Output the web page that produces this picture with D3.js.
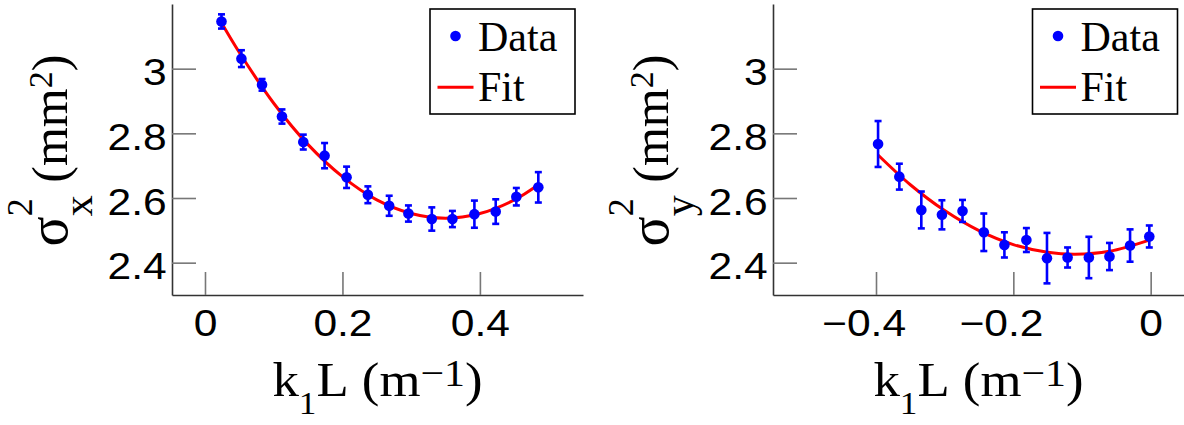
<!DOCTYPE html>
<html><head><meta charset="utf-8">
<script src="https://cdn.jsdelivr.net/npm/d3@7/dist/d3.min.js"></script>
<style>body{margin:0;background:#fff;} svg{display:block;}</style>
</head><body>
<svg id="c" width="1184" height="425"></svg>
<script>
// ---------- data ----------
const yTicks = [2.4, 2.6, 2.8, 3.0];
const yTickLabels = ["2.4", "2.6", "2.8", "3"];

const xTicksLeft = [0, 0.2, 0.4];
const xTickLabelsLeft = ["0", "0.2", "0.4"];
const xTicksRight = [-0.4, -0.2, 0];
const xTickLabelsRight = ["\u22120.4", "\u22120.2", "0"];

// sigma_x^2 scan
const k1LLeft = [0.024, 0.053, 0.083, 0.112, 0.143, 0.174, 0.206, 0.237, 0.268, 0.296, 0.330, 0.360, 0.392, 0.423, 0.453, 0.485];
const sigX2 = [3.146, 3.031, 2.950, 2.852, 2.773, 2.731, 2.664, 2.610, 2.576, 2.552, 2.535, 2.535, 2.550, 2.558, 2.604, 2.633];
const sigX2Err = [0.022, 0.026, 0.018, 0.022, 0.023, 0.039, 0.033, 0.026, 0.031, 0.025, 0.036, 0.025, 0.042, 0.038, 0.027, 0.047];
const fitK1LLeft = [0.024, 0.05, 0.10, 0.15, 0.20, 0.25, 0.30, 0.35, 0.40, 0.45, 0.485];
const fitSigX2 = [3.142, 3.050, 2.893, 2.765, 2.666, 2.594, 2.552, 2.5375, 2.552, 2.594, 2.641];

// sigma_y^2 scan
const k1LRight = [-0.397, -0.366, -0.334, -0.304, -0.274, -0.243, -0.213, -0.181, -0.151, -0.121, -0.090, -0.060, -0.030, -0.002];
const sigY2 = [2.767, 2.666, 2.563, 2.548, 2.560, 2.494, 2.455, 2.470, 2.414, 2.416, 2.416, 2.419, 2.453, 2.481];
const sigY2Err = [0.071, 0.040, 0.057, 0.045, 0.034, 0.058, 0.039, 0.037, 0.078, 0.031, 0.064, 0.042, 0.050, 0.034];
const fitK1LRight = [-0.397, -0.35, -0.30, -0.25, -0.20, -0.15, -0.11, -0.06, -0.002];
const fitSigY2 = [2.733, 2.641, 2.561, 2.499, 2.456, 2.432, 2.426, 2.435, 2.4695];

const legendLabels = ["Data", "Fit"];

// ---------- drawing ----------
const svg = d3.select("#c");
const SANS = "'Liberation Sans', Arial, Helvetica, sans-serif";
const SERIF = "'Liberation Serif', 'Times New Roman', serif";
const SX = 1.15;       // horizontal stretch of tick labels
const BLUE = "#0000ff", RED = "#ff0000";

function rich(parent, pieces, tx, ty, rot, sx) {
  const g = parent.append("g").attr("transform", `translate(${tx},${ty}) rotate(${rot}) scale(${sx},1)`);
  const inner = g.append("g");
  let x = 0, stackW = 0;
  pieces.forEach(p => {
    const t = inner.append("text").attr("x", x).attr("y", p.shift || 0)
      .attr("font-family", SERIF).attr("font-size", p.size).attr("fill", "#000")
      .style("white-space", "pre").attr("xml:space", "preserve").text(p.t);
    const w = t.node().getComputedTextLength();
    if (p.stack) { stackW = Math.max(stackW, w); }
    else { x += Math.max(w, stackW); stackW = 0; }
  });
  inner.attr("transform", `translate(${-x / 2},0)`);
}

function panel(cfg) {
  const x = d3.scaleLinear().domain(cfg.xDomain).range(cfg.xRange);
  const y = d3.scaleLinear().domain([2.3, 3.2]).range([295, 4]);
  const g = svg.append("g");

  // y axis
  const ya = g.append("g").attr("transform", `translate(${cfg.xRange[0]},0)`)
    .call(d3.axisLeft(y).tickValues(yTicks).tickFormat((d, i) => yTickLabels[i])
      .tickSize(-24).tickSizeOuter(0).tickPadding(5));
  // x axis
  const xa = g.append("g").attr("transform", `translate(0,295)`)
    .call(d3.axisBottom(x).tickValues(cfg.xTicks).tickFormat((d, i) => cfg.xTickLabels[i])
      .tickSize(-23).tickSizeOuter(0).tickPadding(15));
  [ya, xa].forEach(a => {
    a.select(".domain").attr("stroke", "#333").attr("stroke-width", 1.6);
    a.selectAll(".tick line").attr("stroke", "#777").attr("stroke-width", 1.6);
    a.selectAll(".tick text").attr("font-family", SANS).attr("font-size", 37).attr("fill", "#000");
  });
  ya.selectAll(".tick text").attr("x", -5.3 / SX).attr("dy", "0.44em").attr("transform", `scale(${SX},1)`);
  xa.selectAll(".tick text").attr("x", function () {
      return this.textContent.startsWith("\u2212") ? -12.4 / SX : 0;
    }).attr("transform", `scale(${SX},1)`);

  // fit
  const line = d3.line().x(d => x(d[0])).y(d => y(d[1])).curve(d3.curveCatmullRom.alpha(0.5));
  g.append("path").datum(cfg.fitX.map((v, i) => [v, cfg.fitY[i]]))
    .attr("d", line).attr("fill", "none").attr("stroke", RED).attr("stroke-width", 3);

  // data with error bars
  const pts = cfg.dx.map((v, i) => ({ x: v, y: cfg.dy[i], e: cfg.de[i] }));
  const eb = g.append("g").attr("stroke", BLUE).attr("stroke-width", 2.6);
  pts.forEach(p => {
    const cx = x(p.x), y1 = y(p.y - p.e), y2 = y(p.y + p.e);
    eb.append("line").attr("x1", cx).attr("x2", cx).attr("y1", y1).attr("y2", y2);
    eb.append("line").attr("x1", cx - 3.5).attr("x2", cx + 3.5).attr("y1", y1).attr("y2", y1);
    eb.append("line").attr("x1", cx - 3.5).attr("x2", cx + 3.5).attr("y1", y2).attr("y2", y2);
  });
  g.append("g").selectAll("circle").data(pts).join("circle")
    .attr("cx", d => x(d.x)).attr("cy", d => y(d.y)).attr("r", 5.3).attr("fill", BLUE);

  // legend
  const lx = cfg.xRange[0] + cfg.legOff;
  const lg = g.append("g").attr("transform", `translate(${lx},9)`);
  lg.append("rect").attr("width", 145).attr("height", 105).attr("fill", "#fff")
    .attr("stroke", "#000").attr("stroke-width", 1.6);
  lg.append("circle").attr("cx", 25.5).attr("cy", 27).attr("r", 5.3).attr("fill", BLUE);
  lg.append("line").attr("x1", 7.5).attr("x2", 43.5).attr("y1", 78.3).attr("y2", 78.3)
    .attr("stroke", RED).attr("stroke-width", 3);
  lg.append("text").attr("x", 48).attr("y", 41.7).attr("font-family", SERIF).attr("font-size", 42).text(legendLabels[0]);
  lg.append("text").attr("x", 48).attr("y", 92).attr("font-family", SERIF).attr("font-size", 42).text(legendLabels[1]);

  // x title: k_1 L (m^-1)
  const xc = (cfg.xRange[0] + Math.min(cfg.xRange[1], 1184)) / 2;
  rich(g, [
    { t: "k", size: 48 },
    { t: "1", size: 32, shift: 18 },
    { t: "L", size: 48 },
    { t: " (", size: 48 },
    { t: "m", size: 48 },
    { t: "\u22121", size: 38, shift: -10 },
    { t: ")", size: 48 }
  ], xc, 396, 0, 1.1);

  // y title: sigma^2_{x|y} (mm^2)
  rich(g, [
    { t: "\u03C3", size: 56 },
    { t: "2", size: 36, shift: -35, stack: true },
    { t: cfg.sub, size: 42, shift: 25 },
    { t: " (mm", size: 50 },
    { t: "2", size: 34, shift: -15 },
    { t: ")", size: 50 }
  ], cfg.xRange[0] - 105.3, 150.5, -90, 1.0);
}

panel({
  xDomain: [-0.048, 0.55], xRange: [172, 583],
  xTicks: xTicksLeft, xTickLabels: xTickLabelsLeft,
  dx: k1LLeft, dy: sigX2, de: sigX2Err, fitX: fitK1LLeft, fitY: fitSigX2,
  legOff: 258, sub: "x"
});
panel({
  xDomain: [-0.55, 0.05], xRange: [773, 1185],
  xTicks: xTicksRight, xTickLabels: xTickLabelsRight,
  dx: k1LRight, dy: sigY2, de: sigY2Err, fitX: fitK1LRight, fitY: fitSigY2,
  legOff: 259.5, sub: "y"
});
</script>
</body></html>
